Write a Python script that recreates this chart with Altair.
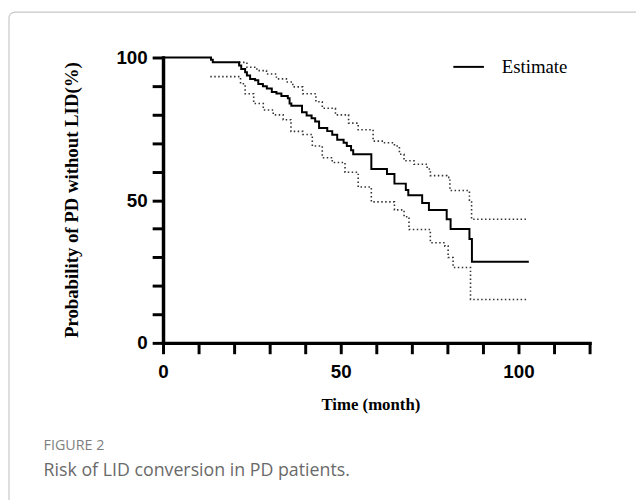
import altair as alt
import pandas as pd

# Kaplan-Meier estimate (time in months, probability in %)
est_t = [0, 13.5, 14.0, 21.4, 22.0, 23.1, 23.6, 24.5, 25.9, 26.8,
         28.1, 29.2, 30.6, 31.9, 33.3, 35.1, 35.6, 36.1, 39.1, 40.4,
         41.8, 42.8, 43.9, 46.2, 47.6, 49.0, 50.8, 51.7, 52.9, 53.5,
         58.6, 63.0, 65.1, 68.3, 69.0, 72.9, 74.8, 79.8, 80.9, 86.2,
         86.9, 102.9]
est_s = [100, 99.2, 98.3, 97.2, 96.0, 94.8, 93.7, 92.5, 92.0, 90.7,
         89.9, 89.1, 87.9, 87.4, 86.5, 85.7, 83.9, 83.1, 80.8, 79.7,
         78.7, 77.6, 75.3, 74.2, 72.9, 71.2, 70.1, 69.0, 67.5, 66.1,
         60.9, 59.2, 55.8, 53.6, 51.7, 49.0, 46.6, 43.3, 39.9, 36.4,
         28.4, 28.4]

# Upper confidence band
up_t = [21.4, 23.6, 26.4, 29.1, 31.9, 34.7, 36.5, 39.3, 43.0, 44.8,
        48.5, 52.2, 54.9, 59.1, 61.9, 65.1, 66.5, 67.8, 70.6, 74.3,
        75.2, 79.8, 80.7, 86.2, 86.8, 102.4]
up_s = [98.3, 96.6, 95.4, 94.2, 92.5, 91.4, 89.7, 87.3, 84.5, 82.2,
        79.9, 77.0, 74.7, 70.7, 70.1, 69.0, 66.1, 63.8, 62.6, 60.9,
        58.6, 58.0, 53.4, 50.0, 43.3, 43.3]

# Lower confidence band
lo_t = [13.3, 21.8, 23.1, 25.5, 28.2, 31.0, 33.8, 36.0, 39.3, 42.0,
        44.8, 47.6, 51.2, 54.9, 58.6, 65.1, 67.8, 69.2, 75.2, 79.3,
        80.2, 81.6, 86.5, 102.3]
lo_s = [93.3, 90.8, 87.3, 83.9, 81.6, 79.9, 78.2, 74.1, 73.0, 69.0,
        64.9, 63.2, 59.8, 54.6, 49.4, 46.6, 44.2, 39.7, 35.1, 33.9,
        29.9, 26.4, 15.2, 15.2]

x_ticks = list(range(0, 121, 10))
y_ticks = list(range(0, 101, 10))

rows = []
for name, ts, ss in [("Estimate", est_t, est_s), ("Upper", up_t, up_s), ("Lower", lo_t, lo_s)]:
    for t, s in zip(ts, ss):
        rows.append({"time": t, "prob": s, "series": name})
df = pd.DataFrame(rows)

W, H = 432, 289

x_enc = alt.X("time:Q", scale=alt.Scale(domain=[0, 120], nice=False),
              axis=alt.Axis(values=x_ticks,
                            labelExpr="datum.value % 50 == 0 ? datum.label : ''",
                            title="Time (month)", grid=False,
                            domainWidth=3.5, domainColor="black", domainCap="square",
                            tickWidth=3, tickSize=11, tickColor="black",
                            labelFont="Liberation Sans", labelFontWeight="bold",
                            labelFontSize=19, labelColor="black", labelPadding=9,
                            labelOverlap=False, labelFlush=False,
                            titleFont="Liberation Serif", titleFontSize=17,
                            titleFontWeight="bold", titleColor="black",
                            titleX=210, titleY=67, titleBaseline="alphabetic",
                            titleAlign="center"))
y_enc = alt.Y("prob:Q", scale=alt.Scale(domain=[0, 100], nice=False),
              axis=alt.Axis(values=y_ticks,
                            labelExpr="datum.value % 50 == 0 ? datum.label : ''",
                            title="Probability of PD without LID(%)", grid=False,
                            domainWidth=3.5, domainColor="black", domainCap="square",
                            tickWidth=3, tickSize=11, tickColor="black",
                            labelFont="Liberation Sans", labelFontWeight="bold",
                            labelFontSize=19, labelColor="black", labelPadding=5,
                            labelOverlap=False, labelFlush=False,
                            titleFont="Liberation Serif", titleFontSize=19,
                            titleFontWeight="bold", titleColor="black",
                            titleX=-93, titleY=144, titleAngle=270,
                            titleBaseline="middle", titleAlign="center"))

base = alt.Chart(df)

est = base.transform_filter(alt.datum.series == "Estimate").mark_line(
    interpolate="step-after", strokeWidth=2).encode(
    x=x_enc, y=y_enc,
    color=alt.Color("series:N", scale=alt.Scale(domain=["Estimate"], range=["black"]),
                    legend=alt.Legend(orient="none", legendX=293, legendY=-7, title=None,
                                      symbolType="stroke", symbolSize=961,
                                      symbolStrokeWidth=2, symbolStrokeColor="black",
                                      labelFont="Liberation Serif", labelFontSize=19,
                                      labelColor="black", labelOffset=17, padding=0)))

ci = base.transform_filter(alt.datum.series != "Estimate").mark_line(
    interpolate="step-after", strokeWidth=1.6, strokeDash=[1.5, 2.5], color="#333333").encode(
    x=x_enc, y=y_enc, detail="series:N")

one = pd.DataFrame({"k": [0]})
border = alt.Chart(one).mark_rect(fillOpacity=0, stroke="#c8c8c8", strokeWidth=1.2,
                                  cornerRadius=6).encode(
    x=alt.value(-156), x2=alt.value(700), y=alt.value(-46), y2=alt.value(700))

fig_label = alt.Chart(one).mark_text(text="FIGURE 2", align="left", baseline="alphabetic",
                                     font="Open Sans", fontSize=14.5, color="#7f7f7f").encode(
    x=alt.value(-121), y=alt.value(398))
caption = alt.Chart(one).mark_text(text="Risk of LID conversion in PD patients.", align="left",
                                   baseline="alphabetic", font="Open Sans", fontSize=18,
                                   color="#6a6a6a").encode(
    x=alt.value(-121), y=alt.value(424))

chart = alt.layer(border, ci, est, fig_label, caption).properties(
    width=W, height=H, autosize="none",
    padding={"left": 157, "top": 47, "right": 47, "bottom": 156},
    background="white"
).configure_view(stroke=None)

chart.save("out.html", embed_options={"renderer": "svg", "actions": False})
